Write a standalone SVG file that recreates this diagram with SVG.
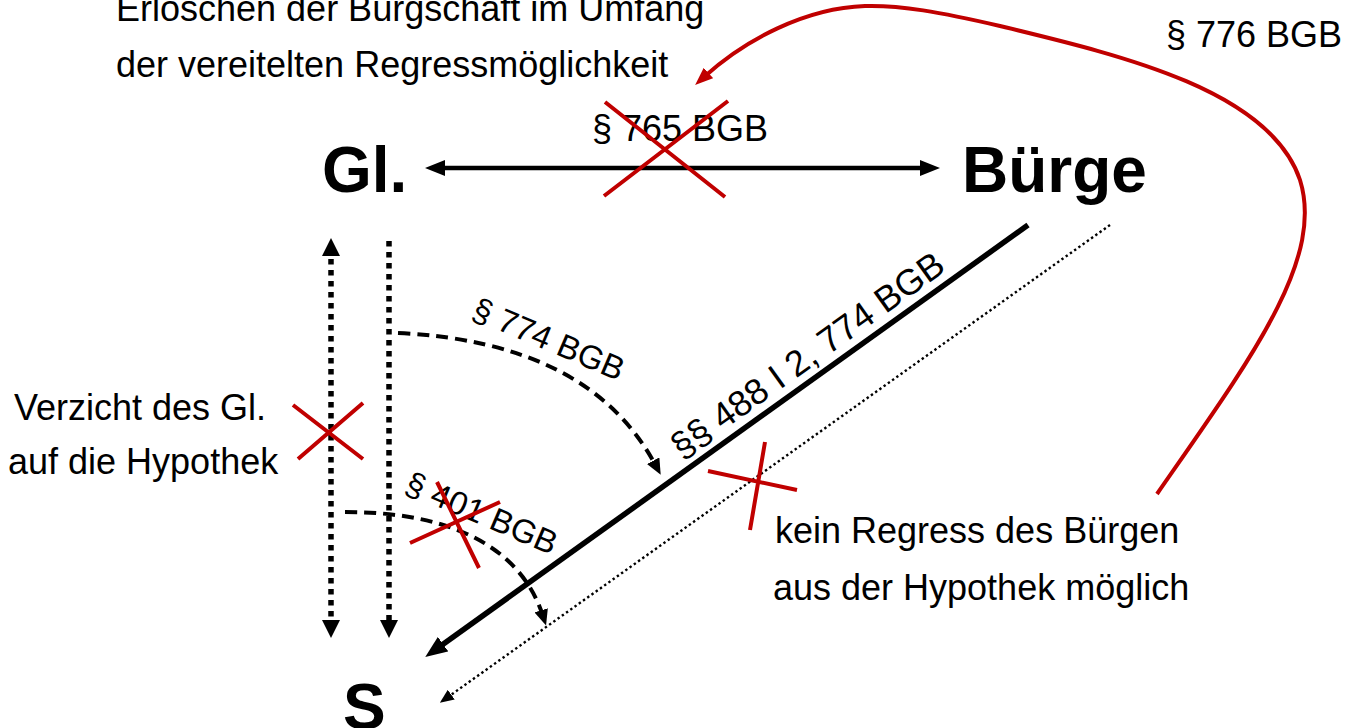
<svg xmlns="http://www.w3.org/2000/svg" width="1357" height="728" viewBox="0 0 1357 728">
<style>
text{font-family:"Liberation Sans",Arial,sans-serif;fill:#000}
.t{font-size:36px}
.r{font-size:33px}
.b{font-size:64px;font-weight:bold}
.red{stroke:#C00000;stroke-width:4;fill:none}
.solid{stroke:#000;stroke-width:4.5;fill:none}
.thick{stroke:#000;stroke-width:5.5;fill:none}
.dots{stroke:#000;stroke-width:5.5;fill:none;stroke-dasharray:5.5 5.5}
.dash{stroke:#000;stroke-width:4;fill:none;stroke-dasharray:12 7}
.fine{stroke:#000;stroke-width:2.4;fill:none;stroke-dasharray:2.4 2.8}
</style>
<defs>
<marker id="ah" viewBox="0 0 20 16" refX="10" refY="8" markerWidth="20" markerHeight="16" markerUnits="userSpaceOnUse" orient="auto-start-reverse"><path d="M0,0 L20,8 L0,16 z" fill="#000"/></marker>
<marker id="ahb" viewBox="0 0 22 18" refX="10" refY="9" markerWidth="22" markerHeight="18" markerUnits="userSpaceOnUse" orient="auto"><path d="M0,0 L22,9 L0,18 z" fill="#000"/></marker>
<marker id="ahv" viewBox="0 0 18 18" refX="8" refY="9" markerWidth="18" markerHeight="18" markerUnits="userSpaceOnUse" orient="auto-start-reverse"><path d="M0,0 L18,9 L0,18 z" fill="#000"/></marker>
<marker id="ahd" viewBox="0 0 16 14" refX="6" refY="7" markerWidth="16" markerHeight="14" markerUnits="userSpaceOnUse" orient="auto"><path d="M0,0 L16,7 L0,14 z" fill="#000"/></marker>
<marker id="ahs" viewBox="0 0 14 12" refX="4" refY="6" markerWidth="14" markerHeight="12" markerUnits="userSpaceOnUse" orient="auto"><path d="M0,0 L14,6 L0,12 z" fill="#000"/></marker>
<marker id="ahr" viewBox="0 0 18 14" refX="6" refY="7" markerWidth="18" markerHeight="14" markerUnits="userSpaceOnUse" orient="auto"><path d="M0,0 L18,7 L0,14 z" fill="#C00000"/></marker>
</defs>

<g id="connectors">
<line class="solid" x1="435" y1="168" x2="930" y2="168" marker-start="url(#ah)" marker-end="url(#ah)"/>
<line class="dots" x1="331" y1="248" x2="331" y2="628" marker-start="url(#ahv)" marker-end="url(#ahv)"/>
<line class="dots" x1="389" y1="241" x2="389" y2="628" marker-end="url(#ahv)"/>
<line class="thick" x1="1028" y1="225" x2="435" y2="650" marker-end="url(#ahb)"/>
<line class="fine" x1="1110" y1="225" x2="448" y2="697" marker-end="url(#ahs)"/>
<path class="dash" d="M398,333 Q590,342 656,466" marker-end="url(#ahd)"/>
<path class="dash" d="M345,512 C470,512 525,560 543,616" marker-end="url(#ahd)"/>
<path class="red" d="M1157,494 C1250,360 1325,260 1300,180 C1270,90 1120,55 1000,26 C940,12 900,5 865,6 C805,8 745,40 704,77" marker-end="url(#ahr)"/>
</g>

<g id="node-gl"><text class="b" x="322" y="192">Gl.</text></g>
<g id="node-buerge"><text class="b" x="962" y="192">Bürge</text></g>
<g id="node-s"><text class="b" x="343" y="729">S</text></g>

<g id="label-top">
<text class="t" x="116" y="21">Erlöschen der Bürgschaft im Umfang</text>
<text class="t" x="116" y="77">der vereitelten Regressmöglichkeit</text>
</g>
<g id="label-776"><text class="t" x="1166" y="47">§ 776 BGB</text></g>
<g id="label-765"><text class="t" x="592" y="141">§ 765 BGB</text></g>
<g id="label-verzicht">
<text class="t" x="14" y="420">Verzicht des Gl.</text>
<text class="t" x="8" y="474">auf die Hypothek</text>
</g>
<g id="label-774"><text class="r" transform="translate(470,318) rotate(23)">§ 774 BGB</text></g>
<g id="label-488"><text class="t" transform="translate(682,460) rotate(-35.6)">§§ 488 I 2, 774 BGB</text></g>
<g id="label-401"><text class="r" transform="translate(403,492) rotate(23)">§ 401 BGB</text></g>
<g id="label-kein">
<text class="t" x="775" y="543">kein Regress des Bürgen</text>
<text class="t" x="773" y="600">aus der Hypothek möglich</text>
</g>

<g id="crosses">
<path class="red" d="M605,102 L725,197 M728,101 L604,196"/>
<path class="red" d="M293,405 L363,459 M363,403 L298,459"/>
<path class="red" d="M437,482 L479,568 M410,543 L500,502"/>
<path class="red" d="M708,471 L797,490 M765,442 L750,530"/>
</g>
</svg>
